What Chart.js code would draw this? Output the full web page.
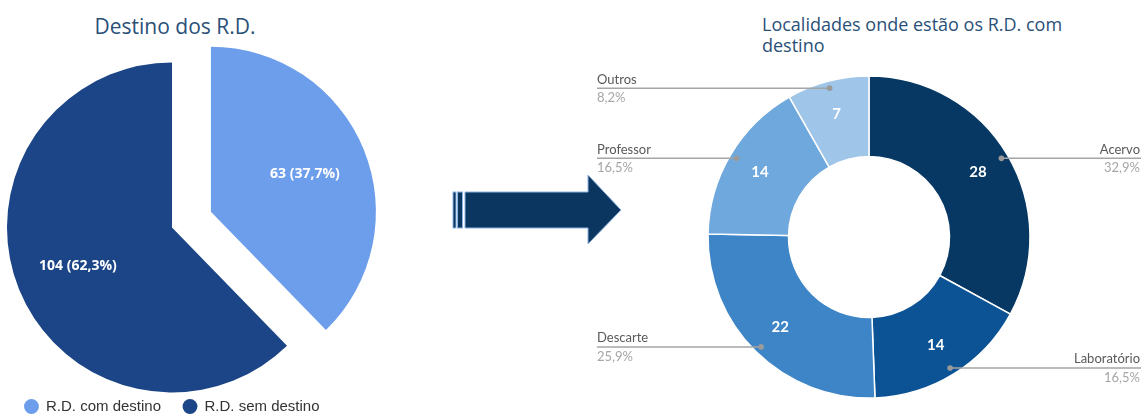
<!DOCTYPE html>
<html><head><meta charset="utf-8">
<script src="https://cdn.jsdelivr.net/npm/chart.js@4.4.1/dist/chart.umd.min.js"></script>
<style>
html,body{margin:0;padding:0;width:1141px;height:414px;overflow:hidden;background:#fff;}
#c1{position:absolute;left:0;top:0;}
#c2{position:absolute;left:580px;top:0;}
.t{position:absolute;font-family:'Open Sans';color:#2a5078;white-space:nowrap;}
#arrow{position:absolute;left:0;top:0;}
</style></head><body>
<div class="t" style="left:0;width:350px;text-align:center;top:12px;font-size:21px;">Destino dos R.D.</div>
<div class="t" style="left:762px;top:14px;font-size:18px;line-height:21px;">Localidades onde estão os R.D. com<br>destino</div>
<svg id="arrow" width="1141" height="414">
  <g fill="#0a3660" stroke="#8db3e2" stroke-width="1">
    <rect x="453" y="192" width="3" height="36"/>
    <rect x="457.5" y="192" width="5" height="36"/>
    <polygon points="465,192 588,192 588,175 621,210 588,244 588,228 465,228"/>
  </g>
</svg>
<canvas id="c1" width="420" height="424" style="width:420px;height:424px"></canvas>
<canvas id="c2" width="561" height="414" style="width:561px;height:414px"></canvas>
<script>
const pieLabels = ['R.D. com destino', 'R.D. sem destino'];
const pieValues = [63, 104];
const pieColors = ['#6d9eeb', '#1c4587'];
const pieExplode = [42, 0];

const donutLabels = ['Acervo', 'Laboratório', 'Descarte', 'Professor', 'Outros'];
const donutValues = [28, 14, 22, 14, 7];
const donutColors = ['#073763', '#0b5394', '#3d85c6', '#6fa8dc', '#9fc5e8'];

function pct(v, arr) {
  const t = arr.reduce((a, b) => a + b, 0);
  return (v / t * 100).toFixed(1).replace('.', ',') + '%';
}

const explodePlugin = {
  id: 'explode',
  afterDatasetsUpdate(chart) {
    const meta = chart.getDatasetMeta(0);
    meta.data.forEach((arc, i) => {
      const d = pieExplode[i] || 0;
      if (!d) return;
      const a = (arc.startAngle + arc.endAngle) / 2;
      arc.x += Math.cos(a) * d;
      arc.y += Math.sin(a) * d;
    });
  }
};

const pieLabelPlugin = {
  id: 'pieLabels',
  afterDatasetsDraw(chart) {
    const ctx = chart.ctx;
    const meta = chart.getDatasetMeta(0);
    ctx.save();
    ctx.font = 'bold 14px "Open Sans", sans-serif';
    ctx.fillStyle = '#ffffff';
    ctx.textAlign = 'center';
    ctx.textBaseline = 'middle';
    meta.data.forEach((arc, i) => {
      const a = (arc.startAngle + arc.endAngle) / 2;
      const r = arc.outerRadius * 0.615;
      ctx.fillText(pieValues[i] + ' (' + pct(pieValues[i], pieValues) + ')',
        arc.x + Math.cos(a) * r, arc.y + Math.sin(a) * r);
    });
    ctx.restore();
  }
};

new Chart(document.getElementById('c1'), {
  type: 'pie',
  data: {
    labels: pieLabels,
    datasets: [{ data: pieValues, backgroundColor: pieColors, borderWidth: 0, radius: 165, clip: false }]
  },
  options: {
    responsive: false,
    animation: false,
    layout: { padding: { top: 78, bottom: 0, left: 0, right: 76 } },
    plugins: {
      tooltip: { enabled: false },
      legend: {
        position: 'bottom',
        labels: {
          usePointStyle: true, pointStyle: 'circle',
          boxWidth: 14, boxHeight: 10.5, padding: 22,
          color: '#333333',
          font: { family: '"Liberation Sans", Arial, sans-serif', size: 15 }
        }
      }
    }
  },
  plugins: [explodePlugin, pieLabelPlugin]
});

const donutPlugin = {
  id: 'donutLabels',
  afterDatasetsDraw(chart) {
    const ctx = chart.ctx;
    const meta = chart.getDatasetMeta(0);
    const W = chart.width;
    const leftX = chart.chartArea.left;
    ctx.save();
    meta.data.forEach((arc, i) => {
      const a = (arc.startAngle + arc.endAngle) / 2;
      const cos = Math.cos(a), sin = Math.sin(a);
      const rl = (arc.innerRadius + arc.outerRadius) / 2 + 6;
      ctx.font = 'bold 15px Lato, sans-serif';
      ctx.fillStyle = '#ffffff';
      ctx.textAlign = 'center';
      ctx.textBaseline = 'middle';
      ctx.fillText(String(donutValues[i]), arc.x + cos * rl, arc.y + sin * rl);
      const rd = arc.outerRadius - 7;
      const dx = arc.x + cos * rd, dy = arc.y + sin * rd;
      const right = cos > 0;
      const ex = right ? W : leftX;
      ctx.strokeStyle = '#a5a5a5';
      ctx.lineWidth = 1.5;
      ctx.beginPath();
      ctx.moveTo(dx, dy);
      ctx.lineTo(ex, dy);
      ctx.stroke();
      ctx.fillStyle = '#9a9a9a';
      ctx.beginPath();
      ctx.arc(dx, dy, 2.8, 0, Math.PI * 2);
      ctx.fill();
      ctx.textAlign = right ? 'right' : 'left';
      ctx.textBaseline = 'alphabetic';
      const tx = right ? W - 1 : leftX;
      ctx.font = '13px Lato, sans-serif';
      ctx.fillStyle = '#595959';
      ctx.fillText(donutLabels[i], tx, dy - 4.5);
      ctx.fillStyle = '#a6a6a6';
      ctx.fillText(pct(donutValues[i], donutValues), tx, dy + 14);
    });
    ctx.restore();
  }
};

new Chart(document.getElementById('c2'), {
  type: 'doughnut',
  data: {
    labels: donutLabels,
    datasets: [{ data: donutValues, backgroundColor: donutColors, borderColor: '#ffffff', borderWidth: 1.5, radius: 161, cutout: '50%', clip: false }]
  },
  options: {
    responsive: false,
    animation: false,
    layout: { padding: { top: 60, bottom: 0, left: 17, right: 0 } },
    plugins: { tooltip: { enabled: false }, legend: { display: false } }
  },
  plugins: [donutPlugin]
});
</script>
</body></html>
